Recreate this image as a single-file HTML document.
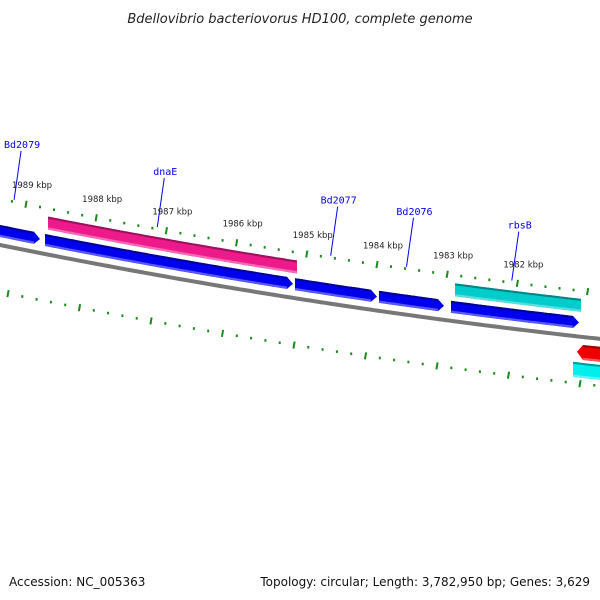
<!DOCTYPE html>
<html><head><meta charset="utf-8"><style>
html,body{margin:0;padding:0;background:#fff}
svg{display:block;font-family:"DejaVu Sans","Liberation Sans",sans-serif}
</style></head><body>
<svg id="map" width="600" height="600" viewBox="0 0 600 600">
<rect width="600" height="600" fill="#fff"/>
<text x="300" y="23" text-anchor="middle" font-size="13" font-style="italic" fill="#222">Bdellovibrio bacteriovorus HD100, complete genome</text>
<g id="ticks"></g><g id="backbone"></g><g id="features"></g><g id="labels"></g>
<text x="9" y="586" font-size="12" fill="#111">Accession: NC_005363</text>
<text x="590" y="586" text-anchor="end" font-size="12" fill="#111">Topology: circular; Length: 3,782,950 bp; Genes: 3,629</text>
</svg>
<script>
const tickKbp = [1989,1988,1987,1986,1985,1984,1983,1982];
const featStart = [1989.44,1988.687,1988.729,1985.168,1983.971,1982.889,1982.946,1981.151,1981.208];
const featEnd   = [1988.80,1985.140,1985.197,1984.0,1983.046,1981.094,1981.123,1980.60,1980.60];
const featColor = ["#0000ee","#ee1a8c","#0000ee","#0000ee","#0000ee","#00cccc","#0000ee","#ee0000","#00eeee"];
const featRing  = ["fwdIn","fwdOut","fwdIn","fwdIn","fwdIn","fwdOut","fwdIn","rev1","rev2"];
const featDir   = [1,0,1,1,1,0,1,-1,0];
const geneNames = ["Bd2079","dnaE","Bd2077","Bd2076","rbsB"];
const geneKbp   = [1989.17,1987.13,1984.66,1983.58,1982.08];

const NS="http://www.w3.org/2000/svg";
const X = k => 26 + (1989 - k) * 70.2;
const XI = k => 8 + (1989 - k) * 71.5;
const yb = x => 244 + 0.2033*x - 7.8e-5*x*x;
const ringOff = {fwdOut:[-37,-24], fwdIn:[-19,-7], rev1:[9,24], rev2:[27,42]};
function mk(tag, parent){const e=document.createElementNS(NS,tag);document.getElementById(parent).appendChild(e);return e;}

// backbone
const bb = mk('path','backbone');
let d='';for(let x=-10;x<=610;x+=5){d+=(x==-10?'M':'L')+x+','+(yb(x)+1).toFixed(1);}
bb.setAttribute('d',d);bb.setAttribute('stroke','#777');bb.setAttribute('stroke-width','4');bb.setAttribute('fill','none');



// ticks
for(let t=1980.0;t<=1990.001;t+=0.2){
  const k=Math.round(t*10)/10;
  const major=Math.abs(k-Math.round(k))<0.01;
  [[X(k),-45,'outer'],[XI(k),48,'inner']].forEach(([x,off,nm])=>{
    if(x<-5||x>605) return;
    const y=yb(x)+off;
    const r=mk('line','ticks');
    const h=major?3.5:1.3;
    r.setAttribute('x1',x+ (major?0.6:0));r.setAttribute('y1',y-h);
    r.setAttribute('x2',x- (major?0.6:0));r.setAttribute('y2',y+h);
    r.setAttribute('stroke','#1a8a1a');r.setAttribute('stroke-width','2');
    
    
  });
}
tickKbp.forEach(k=>{
  const x=X(k);const tx=mk('text','ticks');
  tx.setAttribute('x',x+6);tx.setAttribute('y',yb(x)-61);
  tx.setAttribute('text-anchor','middle');tx.setAttribute('font-size','8.5');tx.setAttribute('fill','#222');
  tx.textContent=k+' kbp';
  
  
});

// features
function shade(c,f){const n=parseInt(c.slice(1),16);let r=n>>16,g=(n>>8)&255,b=n&255;
  const m=v=>Math.max(0,Math.min(255,Math.round(f>0?v+(255-v)*f:v*(1+f))));
  return 'rgb('+m(r)+','+m(g)+','+m(b)+')';}
featStart.forEach((s,i)=>{
  let x1=X(s),x2=X(featEnd[i]);
  const [o1,o2]=ringOff[featRing[i]];const dir=featDir[i];
  const head=6;
  let a=x1,b=x2;
  if(dir===1)b=x2-head; if(dir===-1)a=x1+head;
  const top=[],bot=[];
  for(let x=a;x<b;x+=4){top.push([x,yb(x)+o1]);bot.push([x,yb(x)+o2]);}
  top.push([b,yb(b)+o1]);bot.push([b,yb(b)+o2]);
  let pts=[...top];
  if(dir===1)pts.push([x2,yb(x2)+(o1+o2)/2]);
  pts=pts.concat(bot.slice().reverse());
  if(dir===-1)pts.push([x1,yb(x1)+(o1+o2)/2]);
  const p=mk('polygon','features');
  p.setAttribute('points',pts.map(q=>q[0].toFixed(1)+','+q[1].toFixed(1)).join(' '));
  p.setAttribute('fill',featColor[i]);
  
  
  const hi=mk('path','features');
  hi.setAttribute('d','M'+top.map(q=>q[0].toFixed(1)+','+(q[1]+1).toFixed(1)).join('L'));
  hi.setAttribute('stroke',shade(featColor[i],-0.35));hi.setAttribute('stroke-width','2');hi.setAttribute('fill','none');
  
  
  const lo=mk('path','features');
  lo.setAttribute('d','M'+bot.map(q=>q[0].toFixed(1)+','+(q[1]-1.2).toFixed(1)).join('L'));
  lo.setAttribute('stroke',shade(featColor[i],0.35));lo.setAttribute('stroke-width','2.2');lo.setAttribute('fill','none');
  
  
});

// gene labels
geneNames.forEach((n,i)=>{
  const x=X(geneKbp[i]);const y0=yb(x)-47;
  const l=mk('line','labels');
  l.setAttribute('x1',x);l.setAttribute('y1',y0);l.setAttribute('x2',x+7);l.setAttribute('y2',y0-49);
  l.setAttribute('stroke','#0000ee');l.setAttribute('stroke-width','1');
  
  
  const t=mk('text','labels');
  t.setAttribute('x',x+8);t.setAttribute('y',y0-52);t.setAttribute('text-anchor','middle');
  t.setAttribute('font-size','10');t.setAttribute('fill','#0000ee');t.setAttribute('font-family','"DejaVu Sans Mono","Liberation Mono",monospace');
  t.textContent=n;
  
  
});
</script>
</body></html>
